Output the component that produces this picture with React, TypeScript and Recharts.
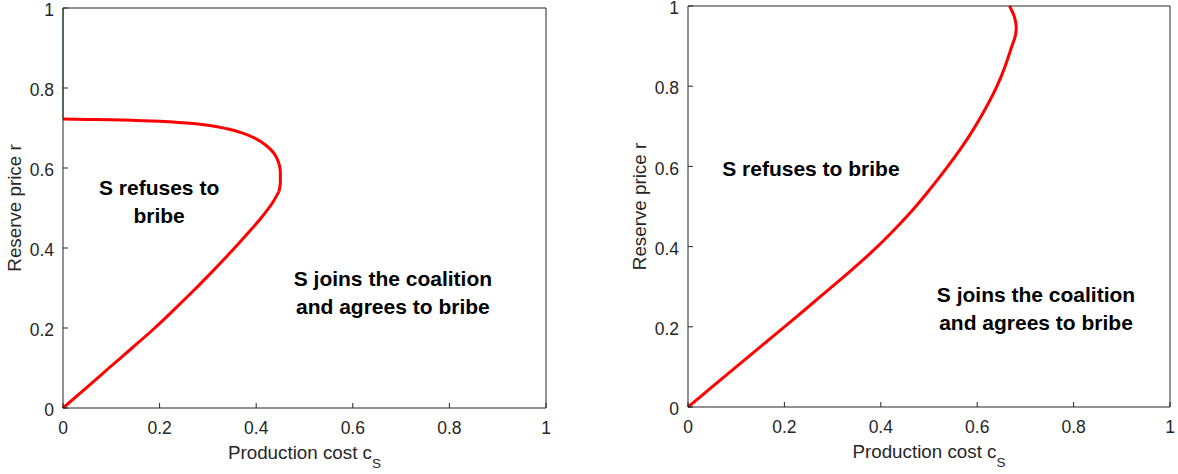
import React from 'react'
import { LineChart, Line, XAxis, YAxis, ReferenceDot, Label } from 'recharts'

const FONT = '"Liberation Sans", Arial, Helvetica, sans-serif'
const AXIS = '#262626'

const axisTicks = [0, 0.2, 0.4, 0.6, 0.8, 1]

// left panel: lower branch of the boundary, then the "nose" coming back to c = 0
const leftLowerCost = [0, 0.05, 0.095, 0.143, 0.19, 0.231, 0.27, 0.309, 0.346, 0.379, 0.41, 0.432, 0.447]
const leftLowerPrice = [0, 0.052, 0.1, 0.15, 0.2, 0.247, 0.293, 0.341, 0.388, 0.432, 0.475, 0.51, 0.541]
const leftUpperCost = [0.447, 0.45, 0.45, 0.446, 0.436, 0.42, 0.398, 0.372, 0.34, 0.3, 0.25, 0.2, 0.15, 0.1, 0.05, 0]
const leftUpperPrice = [0.541, 0.565, 0.59, 0.615, 0.638, 0.657, 0.674, 0.687, 0.698, 0.707, 0.713, 0.717, 0.719, 0.7205, 0.7215, 0.7225]
const leftEdgeCost = [0, 0]
const leftEdgePrice = [0.7225, 1]

// right panel boundary
const rightCost = [0, 0.05, 0.1, 0.15, 0.2, 0.245, 0.29, 0.335, 0.378, 0.42, 0.46, 0.5, 0.537, 0.568, 0.595, 0.619, 0.641, 0.658, 0.672, 0.679, 0.681, 0.678, 0.667]
const rightPrice = [0, 0.05, 0.1, 0.15, 0.2, 0.245, 0.291, 0.337, 0.383, 0.432, 0.483, 0.54, 0.597, 0.648, 0.698, 0.748, 0.8, 0.85, 0.9, 0.925, 0.945, 0.97, 1]

const refuseText = ['S refuses to', 'bribe']
const refuseTextOneLine = ['S refuses to bribe']
const joinText = ['S joins the coalition', 'and agrees to bribe']

const zip = (c: number[], r: number[]) => c.map((v, i) => ({ c: v, r: r[i] }))

type Curve = { key: string; data: { c: number; r: number }[]; color: string; width: number; kind: any }
type Region = { c: number; r: number; lines: string[] }

function regionLabel(lines: string[]) {
  return (props: any) => {
    const vb = props.viewBox || { x: 0, y: 0, width: 0, height: 0 }
    const cx = vb.x + (vb.width || 0) / 2
    const cy = vb.y + (vb.height || 0) / 2
    return (
      <text x={cx} y={cy} textAnchor="middle" fontSize={21} fontWeight="bold" fill="#000" fontFamily={FONT}>
        {lines.map((l, i) => (
          <tspan key={i} x={cx} dy={i === 0 ? 0 : 28}>
            {l}
          </tspan>
        ))}
      </text>
    )
  }
}

const xLabel = (props: any) => {
  const vb = props.viewBox
  const cx = vb.x + vb.width / 2
  return (
    <text x={cx} y={vb.y + 51} textAnchor="middle" fontSize={18.8} fill={AXIS} fontFamily={FONT}>
      Production cost c
      <tspan dy={9} fontSize={13.5}>S</tspan>
    </text>
  )
}

const yLabel = (props: any) => {
  const vb = props.viewBox
  const x = vb.x + 8
  const y = vb.y + vb.height / 2
  return (
    <text x={x} y={y} transform={`rotate(-90, ${x}, ${y})`} textAnchor="middle" fontSize={18.8} fill={AXIS} fontFamily={FONT}>
      Reserve price r
    </text>
  )
}

function Panel({ curves, regions, margin }: { curves: Curve[]; regions: Region[]; margin: any }) {
  const tickStyle = { fill: AXIS, fontSize: 17.5, fontFamily: FONT }
  return (
    <LineChart width={589} height={474} margin={margin}>
      <XAxis
        xAxisId="b"
        type="number"
        dataKey="c"
        domain={[0, 1]}
        ticks={axisTicks}
        interval={0}
        tickSize={-5}
        tickMargin={19}
        height={60}
        stroke={AXIS}
        tick={tickStyle}
        tickFormatter={(v: number) => String(v)}
      >
        <Label content={xLabel} />
      </XAxis>
      <XAxis
        xAxisId="t"
        orientation="top"
        type="number"
        dataKey="c"
        domain={[0, 1]}
        ticks={axisTicks}
        interval={0}
        tickSize={-5}
        height={2}
        stroke={AXIS}
        tick={false}
      />
      <YAxis
        yAxisId="l"
        type="number"
        dataKey="r"
        domain={[0, 1]}
        ticks={axisTicks}
        interval={0}
        tickSize={-5}
        tickMargin={14}
        width={50}
        stroke={AXIS}
        tick={{ ...tickStyle, dy: 2 }}
        tickFormatter={(v: number) => String(v)}
      >
        <Label content={yLabel} />
      </YAxis>
      <YAxis
        yAxisId="r"
        orientation="right"
        type="number"
        dataKey="r"
        domain={[0, 1]}
        ticks={axisTicks}
        interval={0}
        tickSize={-5}
        width={2}
        stroke={AXIS}
        tick={false}
      />
      {curves.map((cv) => (
        <Line
          key={cv.key}
          xAxisId="b"
          yAxisId="l"
          data={cv.data}
          dataKey="r"
          type={cv.kind}
          stroke={cv.color}
          strokeWidth={cv.width}
          dot={false}
          activeDot={false}
          isAnimationActive={false}
        />
      ))}
      {regions.map((rg, i) => (
        <ReferenceDot
          key={i}
          xAxisId="b"
          yAxisId="l"
          x={rg.c}
          y={rg.r}
          r={0}
          fill="none"
          stroke="none"
          label={regionLabel(rg.lines)}
        />
      ))}
    </LineChart>
  )
}

export default function App() {
  const leftCurves: Curve[] = [
    { key: 'edge', data: zip(leftEdgeCost, leftEdgePrice), color: '#5b8f6a', width: 1.5, kind: 'linear' },
    { key: 'lower', data: zip(leftLowerCost, leftLowerPrice), color: '#ff0000', width: 3, kind: 'monotoneY' },
    { key: 'upper', data: zip(leftUpperCost, leftUpperPrice), color: '#ff0000', width: 3, kind: 'monotoneY' },
  ]
  const rightCurves: Curve[] = [
    { key: 'bound', data: zip(rightCost, rightPrice), color: '#ff0000', width: 3, kind: 'monotoneY' },
  ]

  return (
    <div style={{ position: 'absolute', left: 0, top: 0, width: 1178, height: 474, background: '#fff' }}>
      <div style={{ position: 'absolute', left: 0, top: 0 }}>
        <Panel
          curves={leftCurves}
          regions={[
            { c: 0.199, r: 0.5325, lines: refuseText },
            { c: 0.683, r: 0.305, lines: joinText },
          ]}
          margin={{ top: 6, right: 41, bottom: 6, left: 13 }}
        />
      </div>
      <div style={{ position: 'absolute', left: 589, top: 0 }}>
        <Panel
          curves={rightCurves}
          regions={[
            { c: 0.255, r: 0.576, lines: refuseTextOneLine },
            { c: 0.722, r: 0.262, lines: joinText },
          ]}
          margin={{ top: 4, right: 6, bottom: 7, left: 49 }}
        />
      </div>
    </div>
  )
}
